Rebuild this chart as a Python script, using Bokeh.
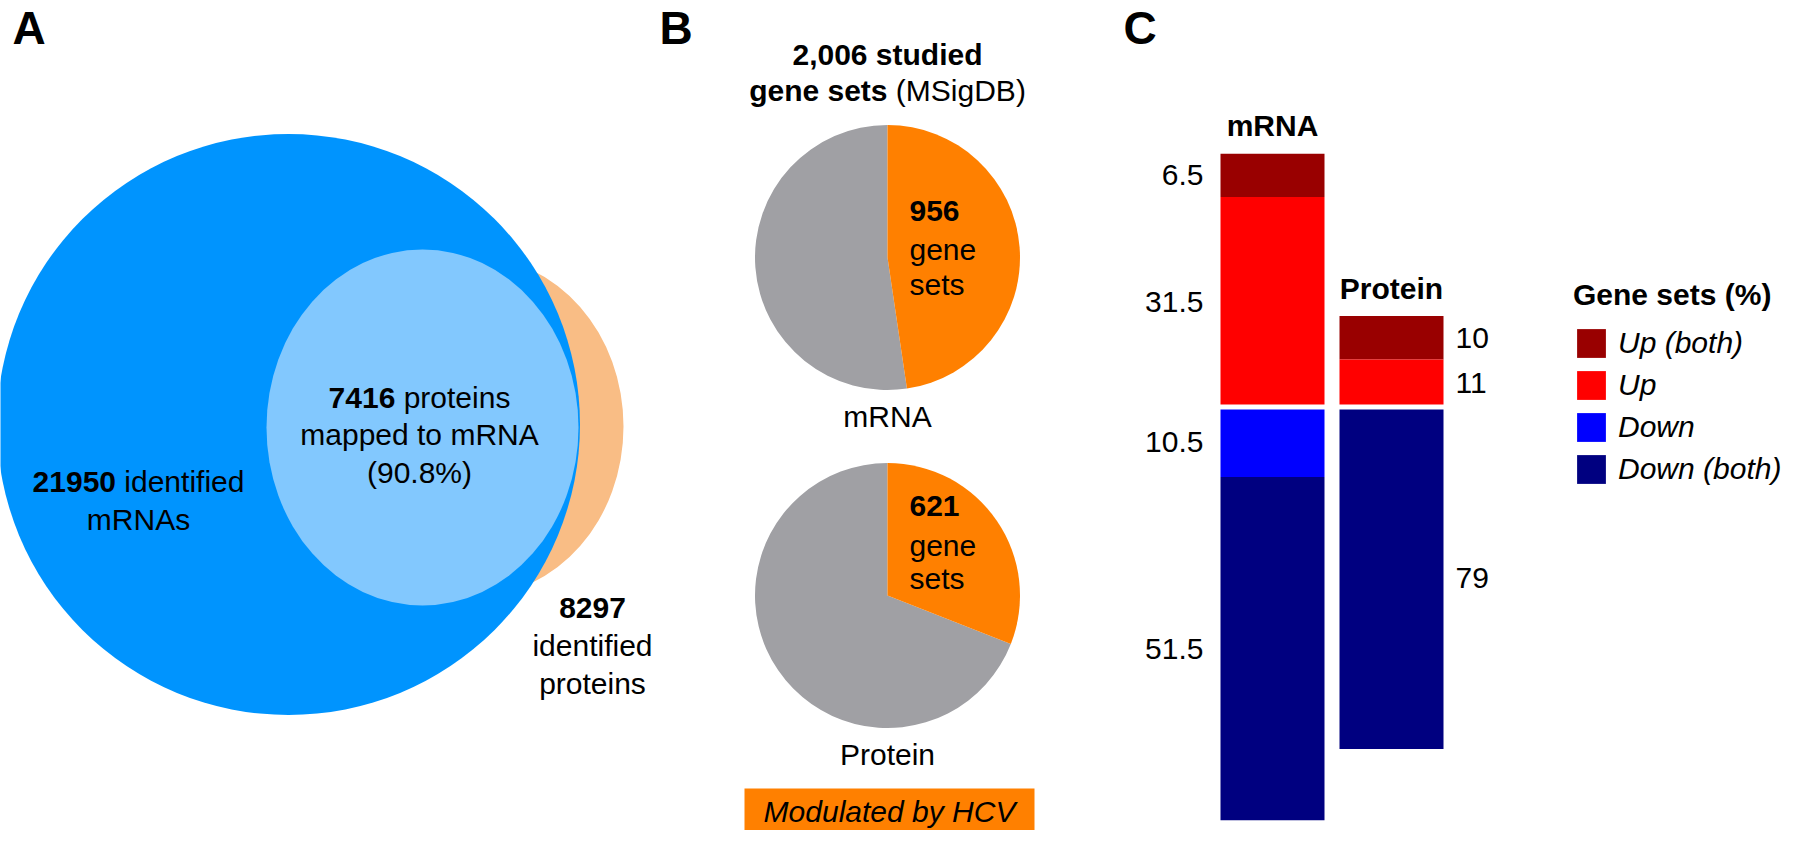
import math
from bokeh.plotting import figure
from bokeh.models import Range1d, ColumnDataSource, Legend, LegendItem
from bokeh.layouts import row
from bokeh.embed import file_html
from bokeh.resources import INLINE
from bokeh.core.properties import value

# ---------------- data ----------------
venn_sets = ["mRNA", "Protein", "Mapped"]
venn_counts = [21950, 8297, 7416]
mapped_percent = 90.8
studied_gene_sets = 2006
pie_labels = ["mRNA", "Protein"]
pie_modulated = [956, 621]
bar_labels = ["mRNA", "Protein"]
bar_totals = [956, 621]
legend_labels = ["Up (both)", "Up", "Down", "Down (both)"]
pct_up_both = [6.5, 10]
pct_up = [31.5, 11]
pct_down = [10.5, 0]
pct_down_both = [51.5, 79]

# ---------------- styles ----------------
FONT = "Liberation Sans"
FS = 30
C_BLUE, C_LIGHT, C_PEACH = "#0094FE", "#82C8FE", "#F9BD85"
C_ORANGE, C_GREY = "#FF8000", "#A0A0A4"
SEG_COLORS = ["#990000", "#FF0000", "#0000FF", "#000080"]

REG = {' ': 278, '(': 333, ')': 333, '%': 889, '.': 278, ',': 278, 'a': 556, 'b': 556,
       'c': 500, 'd': 556, 'e': 556, 'f': 278, 'g': 556, 'h': 556, 'i': 222, 'l': 222,
       'm': 833, 'n': 556, 'o': 556, 'p': 556, 'r': 333, 's': 500, 't': 278, 'u': 556,
       'y': 500, 'A': 667, 'B': 667, 'C': 722, 'D': 722, 'G': 778, 'H': 722, 'M': 833,
       'N': 722, 'P': 667, 'R': 722, 'S': 667, 'V': 667}
BLD = {' ': 278, ',': 278, 'a': 556, 'd': 611, 'e': 556, 'g': 611, 'i': 278, 'n': 611,
       's': 556, 't': 333, 'u': 611}


def tw(s, bold, size):
    tab = BLD if bold else REG
    return sum(tab.get(ch, 556) for ch in s) * size / 1000.0


def txt(p, x, y, s, size=FS, bold=False, italic=False, align="left", baseline="middle"):
    style = "bold italic" if (bold and italic) else "bold" if bold else "italic" if italic else "normal"
    p.text(x=[x], y=[y], text=[s], text_font=value(FONT), text_font_size=value(f"{size}px"),
           text_font_style=style, text_align=align, text_baseline=baseline, text_color="black")


def mixed(p, cx, y, bold_part, normal_part, size=FS):
    wb = tw(bold_part, True, size)
    ws = tw(" ", False, size)
    wn = tw(normal_part, False, size)
    x0 = cx - (wb + ws + wn) / 2
    txt(p, x0, y, bold_part, size, bold=True)
    txt(p, x0 + wb + ws, y, normal_part, size)


def base_fig(w, xr, yr):
    p = figure(width=w, height=830, x_range=xr, y_range=yr, output_backend="svg",
               toolbar_location=None, x_axis_type=None, y_axis_type=None, min_border=0)
    p.grid.visible = False
    p.outline_line_color = None
    p.background_fill_color = "white"
    p.border_fill_color = "white"
    return p


def Y(py):
    return 846 - py


LETTER_Y = 35
LETTER_FS = 46

# ---------------- Panels A + B (shared pixel-like canvas) ----------------
pAB = base_fig(1092, Range1d(8, 1100), Range1d(8, 838))

# Panel A : Venn
pAB.ellipse(x=[483], y=[Y(434)], width=[296], height=[338], fill_color=C_PEACH, line_color=None)
pAB.ellipse(x=[296], y=[Y(432)], width=[583], height=[581], fill_color=C_BLUE, line_color=None)
pAB.ellipse(x=[430], y=[Y(435)], width=[312], height=[356], fill_color=C_LIGHT, line_color=None)

txt(pAB, 20, Y(LETTER_Y), "A", size=LETTER_FS, bold=True)
mixed(pAB, 427, Y(405), f"{venn_counts[2]}", "proteins")
txt(pAB, 427, Y(442), "mapped to mRNA", align="center")
txt(pAB, 427, Y(480), f"({mapped_percent}%)", align="center")
mixed(pAB, 146, Y(489), f"{venn_counts[0]}", "identified")
txt(pAB, 146, Y(527), "mRNAs", align="center")
txt(pAB, 600, Y(615), f"{venn_counts[1]}", bold=True, align="center")
txt(pAB, 600, Y(653), "identified", align="center")
txt(pAB, 600, Y(691), "proteins", align="center")

# Panel B : pies
txt(pAB, 667, Y(LETTER_Y), "B", size=LETTER_FS, bold=True)
txt(pAB, 895, Y(62), f"{studied_gene_sets:,} studied", bold=True, align="center")
mixed(pAB, 895, Y(98), "gene sets", "(MSigDB)")

PIE_X = 895
PIE_Y = [265, 603]
PIE_R = 132.5
TXT_DY = [[-47, -8, 27], [-90, -50, -17]]
for i in range(2):
    frac = pie_modulated[i] / studied_gene_sets
    cy = Y(PIE_Y[i])
    a_end = math.pi / 2 - 2 * math.pi * frac
    pAB.wedge(x=[PIE_X], y=[cy], radius=PIE_R, start_angle=math.pi / 2, end_angle=a_end,
              direction="anticlock", fill_color=C_GREY, line_color=None)
    pAB.wedge(x=[PIE_X], y=[cy], radius=PIE_R, start_angle=a_end, end_angle=math.pi / 2,
              direction="anticlock", fill_color=C_ORANGE, line_color=None)
    dy = TXT_DY[i]
    txt(pAB, PIE_X + 22, Y(PIE_Y[i] + dy[0]), f"{pie_modulated[i]}", bold=True)
    txt(pAB, PIE_X + 22, Y(PIE_Y[i] + dy[1]), "gene")
    txt(pAB, PIE_X + 22, Y(PIE_Y[i] + dy[2]), "sets")
    txt(pAB, PIE_X, Y(PIE_Y[i] + 159), pie_labels[i], align="center")

pAB.quad(left=[752], right=[1042], bottom=[Y(841)], top=[Y(796)], fill_color=C_ORANGE, line_color=None)
txt(pAB, 897, Y(819), "Modulated by HCV", italic=True, align="center")

# ---------------- Panel C : stacked bars ----------------
PXU = 119.0          # px per x unit
PXS = 0.697          # px per gene set
BASE_PAGE_Y = 414.5
BAR_CENTER_PAGE_X = 1280
BAR_W = 104 / PXU
xr = Range1d(1 - (BAR_CENTER_PAGE_X - 1100) / PXU, 1 + (1792 - BAR_CENTER_PAGE_X) / PXU)
yr = Range1d(-(838 - BASE_PAGE_Y) / PXS, (BASE_PAGE_Y - 8) / PXS)
pC = base_fig(692, xr, yr)

xs = [1, 2]
up = [pct_up[i] * bar_totals[i] / 100 for i in range(2)]
upb = [pct_up_both[i] * bar_totals[i] / 100 for i in range(2)]
dn = [pct_down[i] * bar_totals[i] / 100 for i in range(2)]
dnb = [pct_down_both[i] * bar_totals[i] / 100 for i in range(2)]

segs = [
    ([up[i] for i in range(2)], [up[i] + upb[i] for i in range(2)], pct_up_both),
    ([0, 0], up, pct_up),
    ([-dn[i] for i in range(2)], [0, 0], pct_down),
    ([-dn[i] - dnb[i] for i in range(2)], [-dn[i] for i in range(2)], pct_down_both),
]
renderers = []
for k, (bot, top, pcts) in enumerate(segs):
    src = ColumnDataSource(dict(x=xs, bottom=bot, top=top))
    r = pC.vbar(x="x", bottom="bottom", top="top", width=BAR_W, source=src,
                fill_color=SEG_COLORS[k], line_color=None)
    renderers.append(r)
    for i in range(2):
        if pcts[i] <= 0:
            continue
        ymid = (bot[i] + top[i]) / 2
        if i == 0:
            txt(pC, 1 - BAR_W / 2 - 17 / PXU, ymid, f"{pcts[i]:g}", align="right")
        else:
            txt(pC, 2 + BAR_W / 2 + 12 / PXU, ymid, f"{pcts[i]:g}", align="left")

pC.segment(x0=[1 - BAR_W], y0=[0], x1=[2 + BAR_W], y1=[0], line_color="white", line_width=5)

for i in range(2):
    txt(pC, xs[i], up[i] + upb[i] + 40, bar_labels[i], bold=True, align="center")

txt(pC, 1 + (1131 - BAR_CENTER_PAGE_X) / PXU, (BASE_PAGE_Y - LETTER_Y) / PXS, "C",
    size=LETTER_FS, bold=True)

legend = Legend(
    items=[LegendItem(label=legend_labels[k], renderers=[renderers[k]]) for k in range(4)],
    location=(481, 838 - 495), title="Gene sets (%)",
    title_text_font=FONT, title_text_font_size="30px", title_text_font_style="bold",
    title_text_color="black", title_standoff=13,
    label_text_font=FONT, label_text_font_size="30px", label_text_font_style="italic",
    label_text_color="black", glyph_width=36, glyph_height=36, label_height=36,
    label_standoff=9, spacing=6, padding=0, margin=0,
    border_line_color=None, background_fill_alpha=0)
pC.add_layout(legend)

layout = row(pAB, pC)
open("out.html", "w").write(file_html(layout, INLINE))
